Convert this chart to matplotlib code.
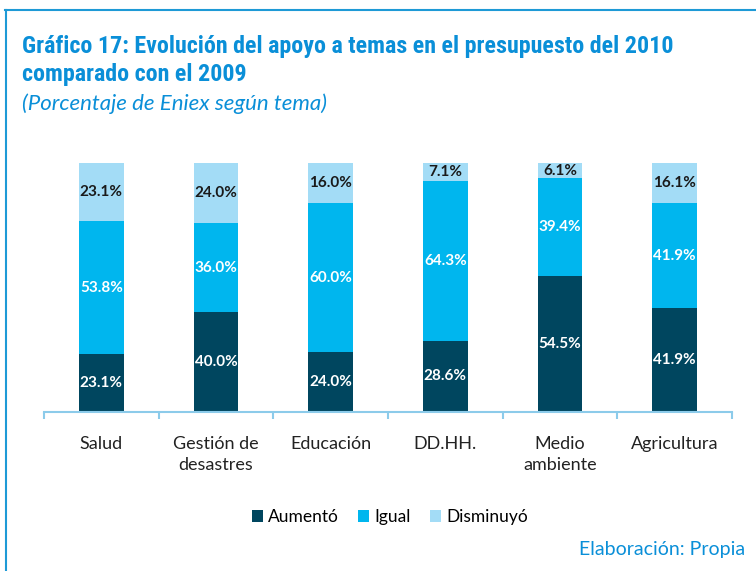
import matplotlib.pyplot as plt
from matplotlib.lines import Line2D
from matplotlib.patches import Patch
import numpy as np

categories = ["Salud", "Gestión de\ndesastres", "Educación", "DD.HH.", "Medio\nambiente", "Agricultura"]
aumento = [23.1, 40.0, 24.0, 28.6, 54.5, 41.9]
igual = [53.8, 36.0, 60.0, 64.3, 39.4, 41.9]
disminuyo = [23.1, 24.0, 16.0, 7.1, 6.1, 16.1]
series_names = ["Aumentó", "Igual", "Disminuyó"]
colors = ["#00465f", "#00b6ee", "#a3dcf6"]
label_colors = ["white", "white", "#1a1a1a"]

W, H = 756, 571
fig = plt.figure(figsize=(W / 100, H / 100), dpi=100)
fig.patch.set_facecolor("white")

def fx(px):
    return px / W

def fy(py):
    return 1 - py / H

ax = fig.add_axes([fx(44), fy(412), fx(732) - fx(44), fy(163) - fy(412)])
x = np.arange(len(categories))
bw = 0.39
bottom = np.zeros(len(categories))
for vals, col, lc in zip([aumento, igual, disminuyo], colors, label_colors):
    vals = np.array(vals)
    ax.bar(x, vals, bw, bottom=bottom, color=col, edgecolor="none")
    for xi, b, v in zip(x, bottom, vals):
        ax.text(xi, b + v / 2, f"{v:.1f}%", ha="center", va="center",
                color=lc, fontsize=11, fontweight="bold", family="Lato")
    bottom = bottom + vals

ax.set_xlim(-0.5, len(categories) - 0.5)
ax.set_ylim(0, 100)
for s in ["top", "right", "left"]:
    ax.spines[s].set_visible(False)
ax.spines["bottom"].set_color("#8ccbea")
ax.spines["bottom"].set_linewidth(1.5)
ax.set_yticks([])
ax.set_xticks(x)
ax.set_xticklabels(categories, fontsize=13, family="Lato", color="#222222", linespacing=1.4)
ax.tick_params(axis="x", which="major", length=0, pad=17)
ax.set_xticks(np.arange(-0.5, len(categories), 1.0), minor=True)
ax.tick_params(axis="x", which="minor", length=5, color="#8ccbea", width=1.5, direction="out")

# frame lines
fig.add_artist(Line2D([fx(5), 1.0], [fy(10), fy(10)], color="#1e9ad6", lw=1.5, transform=fig.transFigure))
fig.add_artist(Line2D([fx(6), fx(6)], [fy(10), 0], color="#1e9ad6", lw=1.5, transform=fig.transFigure))

title_col = "#0a8fd8"
title_fam = ["Roboto Condensed", "Liberation Sans Narrow", "Liberation Sans", "DejaVu Sans"]
fig.text(fx(22), fy(46), "Gráfico 17: Evolución del apoyo a temas en el presupuesto del 2010",
         fontsize=17.3, fontweight="bold", color=title_col, va="center", ha="left",
         family=title_fam, fontstretch="condensed")
fig.text(fx(22), fy(75), "comparado con el 2009",
         fontsize=17.3, fontweight="bold", color=title_col, va="center", ha="left",
         family=title_fam, fontstretch="condensed")
fig.text(fx(22), fy(104), "(Porcentaje de Eniex según tema)",
         fontsize=16, style="italic", color=title_col, va="center", ha="left", family="Lato")

handles = [Patch(facecolor=c, edgecolor="none") for c in colors]
fig.legend(handles, series_names, loc="center", bbox_to_anchor=(fx(390), fy(517)), ncol=3,
           frameon=False, handlelength=0.65, handleheight=0.65, handletextpad=0.3,
           columnspacing=1.1, prop={"family": "Lato", "size": 12.5})

fig.text(fx(745), fy(550), "Elaboración: Propia", fontsize=14, color=title_col,
         ha="right", va="center", family="Lato")

fig.savefig("out.png", dpi=100)
